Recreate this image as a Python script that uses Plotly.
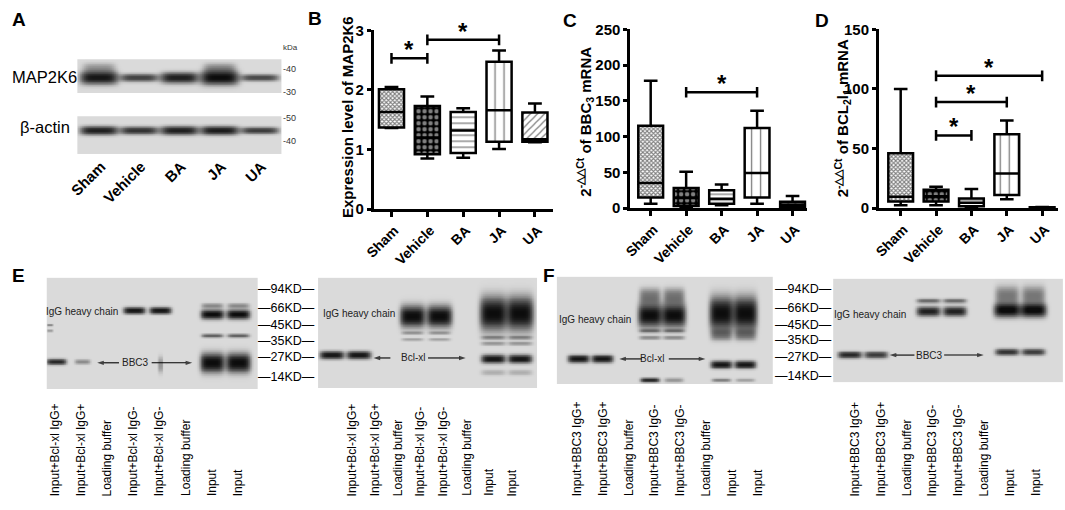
import numpy as np
import plotly.graph_objects as go

W, H = 1065, 510
FONT = "Liberation Sans, Arial, sans-serif"

GROUPS = ["Sham", "Vehicle", "BA", "JA", "UA"]

# ---- Panel A: western blot band intensities (relative darkness, thickness)
MAP2K6_INT = [0.95, 0.72, 0.90, 1.00, 0.68]
MAP2K6_THICK = [6.5, 4.0, 5.5, 7.0, 3.5]
ACTIN_INT = [0.90, 0.80, 0.90, 0.92, 0.75]
ACTIN_THICK = [4.5, 4.0, 4.5, 4.5, 3.5]
A_KDA_LABELS = ["40", "30", "50", "40"]

# ---- Panel B: MAP2K6 expression (box statistics)
B_MIN = [1.36, 0.85, 0.86, 1.01, 1.12]
B_Q1 = [1.37, 0.92, 0.94, 1.13, 1.13]
B_MED = [1.63, 1.20, 1.32, 1.66, 1.17]
B_Q3 = [2.01, 1.73, 1.63, 2.47, 1.62]
B_MAX = [2.05, 1.89, 1.69, 2.66, 1.77]
B_SIG = [(0, 1, 2.53), (1, 3, 2.84)]
B_TICKS = [0, 1, 2, 3]

# ---- Panel C: BBC3 mRNA
C_MIN = [6, 1, 4, 6, 1]
C_Q1 = [15, 3, 6, 15, 2]
C_MED = [35, 14, 13, 49, 5]
C_Q3 = [115, 28, 25, 112, 9]
C_MAX = [178, 51, 33, 136, 17]
C_SIG = [(1, 3, 162)]
C_TICKS = [0, 50, 100, 150, 200, 250]

# ---- Panel D: BCL2l1 mRNA
D_MIN = [2.5, 2.5, 0.3, 7.5, 0.2]
D_Q1 = [5.5, 5.5, 1.5, 11, 0.4]
D_MED = [9.5, 10, 4.5, 29, 0.6]
D_Q3 = [46, 15.5, 8, 62, 0.8]
D_MAX = [100, 18, 16, 73.5, 1.0]
D_SIG = [(1, 2, 61), (1, 3, 89), (1, 4, 111)]
D_TICKS = [0, 50, 100, 150]

# ---- Panels E/F: Co-IP blots
MW_MARKERS = ["94KD", "66KD", "45KD", "35KD", "27KD", "14KD"]
MW_MIG_E = [12, 31, 49, 65, 82, 103]
MW_MIG_F = [13, 32, 50, 65, 83, 103]

LANES_E = ["Input+Bcl-xl IgG+", "Input+Bcl-xl IgG+", "Loading buffer",
           "Input+Bcl-xl IgG-", "Input+Bcl-xl IgG-", "Loading buffer",
           "Input", "Input"]
LANES_F = ["Input+BBC3 IgG+", "Input+BBC3 IgG+", "Loading buffer",
           "Input+BBC3 IgG-", "Input+BBC3 IgG-", "Loading buffer",
           "Input", "Input"]

# bands: lane, migration (px from top of membrane), intensity, half-thickness, half-width (lanes)
E1_LANE = [1, 2, 4, 5, 5, 7, 7, 7, 7, 8, 8, 8, 8, 0.75, 0.75]
E1_MIG = [87, 87, 34, 34, 90, 29, 38, 60, 88, 29, 38, 60, 88, 49, 55]
E1_INT = [0.85, 0.35, 0.95, 0.95, 0.3, 0.35, 1.0, 0.55, 1.0, 0.35, 1.0, 0.55, 1.0, 0.35, 0.3]
E1_THK = [3.0, 2.5, 3.5, 3.5, 8, 2.5, 5, 2, 10, 2.5, 5, 2, 10, 1.3, 1.3]
E1_WID = [0.38, 0.3, 0.42, 0.42, 0.1, 0.42, 0.45, 0.42, 0.47, 0.42, 0.45, 0.42, 0.47, 0.12, 0.12]

E2_LANE = [1, 2, 4, 4, 4, 5, 5, 5, 7, 7, 7, 7, 7, 8, 8, 8, 8, 8]
E2_MIG = [80, 80, 40, 57, 64, 40, 57, 64, 37, 62, 68, 84, 98, 37, 62, 68, 84, 98]
E2_INT = [0.95, 0.95, 1.0, 0.3, 0.25, 1.0, 0.3, 0.25, 1.0, 0.35, 0.3, 0.95, 0.2, 1.0, 0.35, 0.3, 0.95, 0.2]
E2_THK = [4, 4, 11, 1.5, 1.5, 11, 1.5, 1.5, 17, 2, 2, 4.5, 3, 17, 2, 2, 4.5, 3]
E2_WID = [0.45, 0.45, 0.47, 0.4, 0.4, 0.47, 0.4, 0.4, 0.5, 0.45, 0.45, 0.45, 0.45, 0.5, 0.45, 0.45, 0.45, 0.45]

F1_LANE = [1, 2, 4, 4, 4, 4, 4, 5, 5, 5, 5, 5, 7, 7, 7, 7, 8, 8, 8, 8]
F1_MIG = [85, 85, 40, 20, 56, 63, 107, 40, 20, 56, 63, 107, 38, 60, 91, 107, 38, 60, 91, 107]
F1_INT = [0.95, 0.95, 1.0, 0.45, 0.4, 0.35, 0.85, 1.0, 0.45, 0.4, 0.35, 0.3, 1.0, 0.4, 0.95, 0.4, 1.0, 0.4, 0.95, 0.25]
F1_THK = [4, 4, 12, 8, 2, 2, 2.5, 12, 8, 2, 2, 2.5, 17, 6, 4, 2, 17, 6, 4, 2]
F1_WID = [0.45, 0.45, 0.5, 0.45, 0.45, 0.45, 0.4, 0.5, 0.45, 0.45, 0.45, 0.4, 0.5, 0.45, 0.45, 0.4, 0.5, 0.45, 0.45, 0.4]

F2_LANE = [1, 2, 4, 4, 5, 5, 7, 7, 7, 8, 8, 8]
F2_MIG = [79, 79, 34, 23, 34, 23, 33, 18, 76, 33, 18, 76]
F2_INT = [0.85, 0.75, 0.9, 0.5, 0.9, 0.5, 1.0, 0.45, 0.8, 1.0, 0.45, 0.75]
F2_THK = [3.5, 3.5, 5, 2.5, 5, 2.5, 7, 10, 3.5, 7, 10, 3.5]
F2_WID = [0.45, 0.45, 0.45, 0.45, 0.45, 0.45, 0.5, 0.45, 0.45, 0.5, 0.45, 0.45]

# ------------------------------------------------------------------ helpers
def px(x):
    return x / W

def py(y):
    return 1 - y / H

def dom_x(a, b):
    return [a / W, b / W]

def dom_y(top, bottom):
    return [1 - bottom / H, 1 - top / H]

def render(xr, height, lanes, migs, ints, thks, wids, nx, ny):
    xs = np.linspace(xr[0], xr[1], nx)
    ys = np.linspace(0, height, ny)
    X, Y = np.meshgrid(xs, ys)
    z = np.zeros_like(X)
    for l, m, a, t, w in zip(lanes, migs, ints, thks, wids):
        z += a * np.exp(-np.abs((X - l) / w) ** 5) * np.exp(-np.abs((Y - m) / t) ** 2.5)
    return xs, ys, np.clip(z, 0, 1)

GRAY = [[0, "rgb(218,218,218)"], [0.45, "rgb(118,118,118)"], [1, "rgb(12,12,12)"]]

fig = go.Figure()
layout = dict(width=W, height=H, margin=dict(l=0, r=0, t=0, b=0),
              plot_bgcolor="rgba(0,0,0,0)", paper_bgcolor="white", showlegend=False,
              font=dict(family=FONT, color="black"), barmode="overlay")
annotations = []

def hidden_axes(n, xd, yd, xr, yr):
    ax = dict(domain=xd, range=xr, showgrid=False, zeroline=False, showline=False,
              showticklabels=False, ticks="", anchor="y%d" % n, fixedrange=True)
    ay = dict(domain=yd, range=yr, showgrid=False, zeroline=False, showline=False,
              showticklabels=False, ticks="", anchor="x%d" % n, fixedrange=True)
    layout["xaxis%d" % n if n > 1 else "xaxis"] = ax
    layout["yaxis%d" % n if n > 1 else "yaxis"] = ay

def add_blot(n, xd, yd, xr, height, lanes, migs, ints, thks, wids):
    nx = int((xd[1] - xd[0]) * W * 1.5)
    ny = int((yd[1] - yd[0]) * H * 1.5)
    xs, ys, z = render(xr, height, lanes, migs, ints, thks, wids, nx, ny)
    fig.add_trace(go.Heatmap(x=xs, y=ys, z=z, colorscale=GRAY, zmin=0, zmax=1,
                             showscale=False, hoverinfo="skip",
                             xaxis="x%d" % n if n > 1 else "x",
                             yaxis="y%d" % n if n > 1 else "y"))
    hidden_axes(n, xd, yd, xr, [height, 0])

# ------------------------------------------------------------------ Panel A
xrA = [0.46, 5.54]
lanesA = list(range(1, 6))
add_blot(1, dom_x(68, 274), dom_y(52, 87), xrA, 35,
         lanesA + [1, 4], [19] * 5 + [9, 9], MAP2K6_INT + [0.3, 0.35],
         MAP2K6_THICK + [5, 5], [0.47] * 5 + [0.4, 0.4])
add_blot(2, dom_x(68, 274), dom_y(111, 150), xrA, 39,
         lanesA, [15] * 5, ACTIN_INT, ACTIN_THICK, [0.47] * 5)
layout["xaxis2"].update(showticklabels=True, tickvals=lanesA, ticktext=GROUPS,
                        tickangle=-45, tickfont=dict(size=15, weight="bold"),
                        ticklabelshift=2)
annotations += [
    dict(text="MAP2K6", x=px(35), y=py(70), font=dict(size=16.5)),
    dict(text="β-actin", x=px(35), y=py(122), font=dict(size=16.5)),
    dict(text="kDa", x=px(283), y=py(40), font=dict(size=8, color="#333")),
]
for lab, yy in zip(A_KDA_LABELS, [62, 86, 113, 137]):
    annotations.append(dict(text="-" + lab, x=px(274), y=py(yy), xanchor="left",
                            font=dict(size=9, color="#333")))

# ------------------------------------------------------------------ Box panels
PATTERNS = dict(shape=["x", ".", "-", "|", "/"],
                bgcolor=["white", "black", "white", "white", "white"],
                fgcolor=["black", "white", "black", "black", "black"],
                size=[3, 6, 6, 9, 5], solidity=[0.6, 0.45, 0.22, 0.15, 0.25])

def box_panel(n, xd, yd, xr, yr, ticks, mins, q1, med, q3, mx, sig, tick_d, title, tx, ty):
    xa = "x%d" % n
    ya = "y%d" % n
    pos = list(range(len(GROUPS)))
    heights = [b - a for a, b in zip(q1, q3)]
    fig.add_trace(go.Bar(x=pos, y=heights, base=q1, width=0.7, xaxis=xa, yaxis=ya,
                         marker=dict(color="white", line=dict(width=0), pattern=PATTERNS),
                         hoverinfo="skip"))
    fig.add_trace(go.Box(x=pos, q1=q1, median=med, q3=q3, lowerfence=mins, upperfence=mx,
                         width=0.7, whiskerwidth=0.55, boxpoints=False,
                         fillcolor="rgba(0,0,0,0)", line=dict(color="black", width=2.5),
                         xaxis=xa, yaxis=ya, hoverinfo="skip"))
    for i, j, lvl in sig:
        fig.add_trace(go.Scatter(x=[i, i, None, i, j, None, j, j],
                                 y=[lvl - tick_d, lvl + tick_d, None, lvl, lvl, None,
                                    lvl - tick_d, lvl + tick_d],
                                 mode="lines", line=dict(color="black", width=2.5),
                                 xaxis=xa, yaxis=ya, hoverinfo="skip", cliponaxis=False))
        annotations.append(dict(text="*", x=(i + j) / 2, y=lvl, xref=xa, yref=ya,
                                yanchor="bottom", yshift=-7,
                                font=dict(size=24, weight="bold")))
    layout["xaxis%d" % n] = dict(domain=xd, range=xr, anchor=ya, showline=True,
                                 linewidth=2.5, linecolor="black", ticks="outside",
                                 ticklen=5, tickwidth=2.5, tickcolor="black",
                                 tickvals=pos, ticktext=GROUPS, tickangle=-45,
                                 ticklabelshift=3,
                                 tickfont=dict(size=14, weight="bold"),
                                 showgrid=False, zeroline=False, fixedrange=True)
    layout["yaxis%d" % n] = dict(domain=yd, range=yr, anchor=xa, showline=True,
                                 linewidth=2.5, linecolor="black", ticks="outside",
                                 ticklen=4, tickwidth=2.5, tickcolor="black",
                                 ticklabelstandoff=0,
                                 tickvals=ticks, tickfont=dict(size=15, weight="bold"),
                                 showgrid=False, zeroline=False, fixedrange=True)
    annotations.append(dict(text=title, x=px(tx), y=py(ty), textangle=-90,
                            font=dict(size=15, weight="bold")))

box_panel(3, dom_x(367, 548), dom_y(22, 207), [-0.5, 4.5], [0, 3], B_TICKS,
          B_MIN, B_Q1, B_MED, B_Q3, B_MAX, B_SIG, 0.09,
          "Expression level of MAP2K6", 340, 112)
box_panel(4, dom_x(626, 805), dom_y(21, 206), [-0.58, 4.42], [0, 250], C_TICKS,
          C_MIN, C_Q1, C_MED, C_Q3, C_MAX, C_SIG, 7.5,
          "2<sup>-△△Ct</sup> of BBC<sub>3</sub> mRNA", 580, 117)
box_panel(5, dom_x(877, 1058), dom_y(21, 206), [-0.62, 4.45], [0, 150], D_TICKS,
          D_MIN, D_Q1, D_MED, D_Q3, D_MAX, D_SIG, 4.5,
          "2<sup>-△△Ct</sup> of BCL<sub>2</sub>l<sub>1</sub> mRNA", 840, 113)

# ------------------------------------------------------------------ Panels E / F
add_blot(6, dom_x(37, 250), dom_y(278, 393), [0.62, 8.75], 115,
         E1_LANE, E1_MIG, E1_INT, E1_THK, E1_WID)
add_blot(7, dom_x(311, 532), dom_y(278, 392), [0.48, 8.64], 114,
         E2_LANE, E2_MIG, E2_INT, E2_THK, E2_WID)
add_blot(8, dom_x(552, 770), dom_y(277, 388), [0.08, 9.17], 111,
         F1_LANE, F1_MIG, F1_INT, F1_THK, F1_WID)
add_blot(9, dom_x(831, 1063), dom_y(279, 386), [0.36, 9.11], 107,
         F2_LANE, F2_MIG, F2_INT, F2_THK, F2_WID)

def mw_labels(n, migs, xc):
    for lab, m in zip(MW_MARKERS, migs):
        annotations.append(dict(text="—" + lab + "—", x=px(xc), y=m, xref="paper",
                                yref="y%d" % n, font=dict(size=12.5)))

mw_labels(6, MW_MIG_E, 279)
mw_labels(8, MW_MIG_F, 801)

def lane_labels(labels, x0, step):
    for k, lab in enumerate(labels):
        annotations.append(dict(text=lab, x=px(x0 + step * k), y=py(506), textangle=-90,
                                xanchor="center", yanchor="bottom", font=dict(size=12)))

lane_labels(LANES_E, 45, 26.4)
lane_labels(LANES_E, 345, 23.1)
lane_labels(LANES_F, 572, 26.1)
lane_labels(LANES_F, 853, 26.0)

def blot_note(text, xc, yc, size=10):
    annotations.append(dict(text=text, x=px(xc), y=py(yc), font=dict(size=size, color="#222")))

# overlay axis in canvas pixels for the annotation arrows inside the blots
layout["xaxis10"] = dict(domain=[0, 1], range=[0, W], visible=False, anchor="y10",
                         fixedrange=True)
layout["yaxis10"] = dict(domain=[0, 1], range=[H, 0], visible=False, anchor="x10",
                         fixedrange=True)

def arrow(head, tail, yc):
    fig.add_trace(go.Scatter(x=[tail, head], y=[yc, yc], mode="lines+markers",
                             line=dict(color="black", width=1.1),
                             marker=dict(symbol=["circle", "arrow"], size=[0, 7],
                                         angleref="previous", color="black",
                                         line=dict(width=0)),
                             xaxis="x10", yaxis="y10", hoverinfo="skip",
                             cliponaxis=False))

blot_note("IgG heavy chain", 73, 313)
blot_note("BBC3", 127, 366)
arrow(88, 110, 366)
arrow(184, 143, 366)

blot_note("IgG heavy chain", 352, 315)
blot_note("Bcl-xl", 407, 361)
arrow(367, 384, 361)
arrow(460, 422, 361)

blot_note("IgG heavy chain", 591, 321)
blot_note("Bcl-xl", 648, 362)
arrow(615, 638, 362)
arrow(702, 665, 362)

blot_note("IgG heavy chain", 868, 316)
blot_note("BBC3", 928, 358)
arrow(888, 913, 358)
arrow(983, 943, 358)

# ------------------------------------------------------------------ panel letters
for letter, lx, ly in [("A", 9, 11), ("B", 308, 10), ("C", 565, 12), ("D", 820, 12),
                       ("E", 9, 276), ("F", 544, 276)]:
    annotations.append(dict(text=letter, x=px(lx), y=py(ly),
                            font=dict(size=19, weight="bold")))

for a in annotations:
    a.setdefault("xref", "paper")
    a.setdefault("yref", "paper")
    a.setdefault("showarrow", False)
    a.setdefault("xanchor", "center")
    a.setdefault("yanchor", "middle")
    if "font" in a:
        a["font"].setdefault("family", FONT)
        a["font"].setdefault("color", "black")

layout["annotations"] = annotations
fig.update_layout(**layout)
fig.write_html("out.html", config={"displayModeBar": False},
               post_script="document.body.style.margin='0';document.body.style.overflow='hidden';")
